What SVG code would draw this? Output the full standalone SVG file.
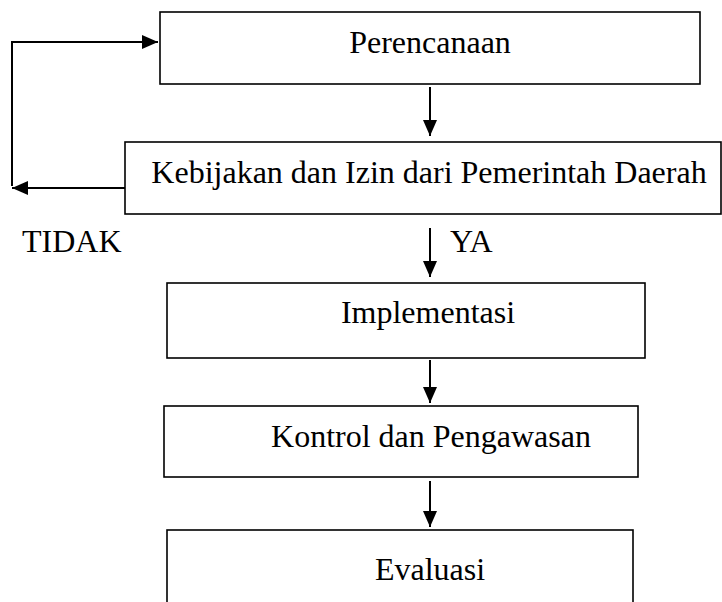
<svg xmlns="http://www.w3.org/2000/svg" width="722" height="602" viewBox="0 0 722 602">
<style>
.box{fill:#fff;stroke:#000;stroke-width:1.6}
.lbl{font-family:"Liberation Serif","Times New Roman",serif;font-size:32px;fill:#000}
.c{text-anchor:middle}
.ln{fill:none;stroke:#000;stroke-width:2}
</style>
<defs>
<marker id="ah" markerUnits="userSpaceOnUse" markerWidth="16" markerHeight="16" viewBox="0 0 16 16" refX="16" refY="8" orient="auto">
<path d="M0 1 L16 8 L0 15 Z" fill="#000"/>
</marker>
</defs>
<rect width="722" height="602" fill="#fff"/>
<g id="connectors">
<path class="ln" d="M430 87 V136" marker-end="url(#ah)"/>
<path class="ln" d="M430 228 V277" marker-end="url(#ah)"/>
<path class="ln" d="M430 360 V403" marker-end="url(#ah)"/>
<path class="ln" d="M430 481 V527" marker-end="url(#ah)"/>
<path class="ln" d="M125 188 H12" marker-end="url(#ah)"/>
<path class="ln" d="M12 186 V42 H158" marker-end="url(#ah)"/>
<text class="lbl" x="22" y="252">TIDAK</text>
<text class="lbl" x="450" y="252">YA</text>
</g>
<g id="n1">
<rect class="box" x="160" y="12" width="540" height="72"/>
<text class="lbl c" x="430" y="53">Perencanaan</text>
</g>
<g id="n2">
<rect class="box" x="125" y="142" width="596" height="72"/>
<text class="lbl c" x="429" y="183">Kebijakan dan Izin dari Pemerintah Daerah</text>
</g>
<g id="n3">
<rect class="box" x="167" y="283" width="478" height="75"/>
<text class="lbl c" x="428" y="323">Implementasi</text>
</g>
<g id="n4">
<rect class="box" x="164" y="406" width="474" height="71"/>
<text class="lbl c" x="431" y="447">Kontrol dan Pengawasan</text>
</g>
<g id="n5">
<rect class="box" x="167" y="530" width="466" height="100"/>
<text class="lbl c" x="430" y="580">Evaluasi</text>
</g>
</svg>
